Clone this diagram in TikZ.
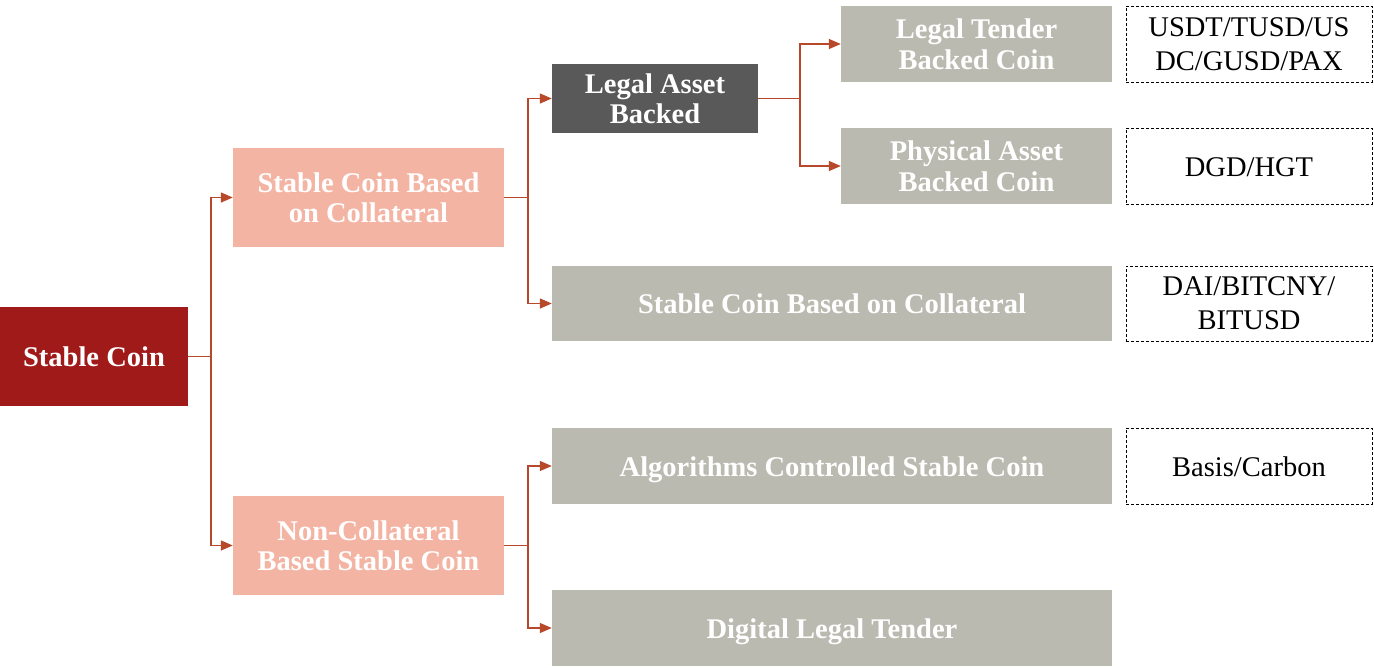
\documentclass[tikz,border=0pt]{standalone}
\usepackage{fontspec}
\setmainfont{Liberation Serif}
\usetikzlibrary{arrows.meta}
\definecolor{cred}{RGB}{160,26,26}
\definecolor{csal}{RGB}{244,180,164}
\definecolor{cdark}{RGB}{89,89,89}
\definecolor{cgrey}{RGB}{187,186,176}
\definecolor{carr}{RGB}{184,72,42}
\tikzset{
  box/.style={inner sep=0pt, align=center, text=white, font=\fontsize{28.5}{30.5}\selectfont\bfseries},
  redbox/.style={box, fill=cred},
  salbox/.style={box, fill=csal},
  darkbox/.style={box, fill=cdark},
  greybox/.style={box, fill=cgrey},
  dashbox/.style={inner sep=0pt, align=center, draw=black, line width=0.9pt, dash pattern=on 3pt off 2pt, font=\fontsize{28.5}{34}\selectfont},
  conn/.style={draw=carr, line width=1.4pt},
  arr/.style={conn, -{Triangle[length=12pt,width=10pt]}}
}
\begin{document}
\begin{tikzpicture}[x=1pt,y=-1pt]
\useasboundingbox (0,0) rectangle (1374,667);
\node[redbox, minimum width=188pt, minimum height=99pt] (sc) at (94,356.5) {Stable Coin};
\node[salbox, minimum width=271pt, minimum height=99pt] (col) at (368.5,197.5) {Stable Coin Based\\on Collateral};
\node[salbox, minimum width=271pt, minimum height=99pt] (ncol) at (368.5,545.5) {Non-Collateral\\Based Stable Coin};
\node[darkbox, minimum width=206pt, minimum height=69pt] (lab) at (655,98.5) {Legal Asset\\Backed};
\node[greybox, minimum width=271pt, minimum height=76pt] (ltb) at (976.5,44) {Legal Tender\\Backed Coin};
\node[greybox, minimum width=271pt, minimum height=76pt] (pab) at (976.5,166) {Physical Asset\\Backed Coin};
\node[greybox, minimum width=560pt, minimum height=75pt] (scc) at (832,303.5) {Stable Coin Based on Collateral};
\node[greybox, minimum width=560pt, minimum height=76pt, text depth=0pt, text height=20pt] (alg) at (832,466) {Algorithms Controlled Stable Coin};
\node[greybox, minimum width=560pt, minimum height=76pt, text depth=0pt, text height=20pt] (dlt) at (832,628) {Digital Legal Tender};
\node[dashbox, minimum width=246pt, minimum height=76pt] (d1) at (1249,44) {USDT/TUSD/US\\DC/GUSD/PAX};
\node[dashbox, minimum width=246pt, minimum height=76pt, text depth=0pt, text height=20pt] (d2) at (1249,166) {DGD/HGT};
\node[dashbox, minimum width=246pt, minimum height=75pt] (d3) at (1249,303.5) {DAI/BITCNY/\\BITUSD};
\node[dashbox, minimum width=246pt, minimum height=76pt, text depth=0pt, text height=20pt] (d4) at (1249,466) {Basis/Carbon};
\coordinate (j1) at (211,356.5);
\coordinate (j2) at (528,197.5);
\coordinate (j3) at (800,98.5);
\coordinate (j4) at (528,545.5);
\draw[conn] (sc.east) -- (j1);
\draw[arr] (j1) |- (col.west);
\draw[arr] (j1) |- (ncol.west);
\draw[conn] (col.east) -- (j2);
\draw[arr] (j2) |- (lab.west);
\draw[arr] (j2) |- (scc.west);
\draw[conn] (lab.east) -- (j3);
\draw[arr] (j3) |- (ltb.west);
\draw[arr] (j3) |- (pab.west);
\draw[conn] (ncol.east) -- (j4);
\draw[arr] (j4) |- (alg.west);
\draw[arr] (j4) |- (dlt.west);
\end{tikzpicture}
\end{document}
